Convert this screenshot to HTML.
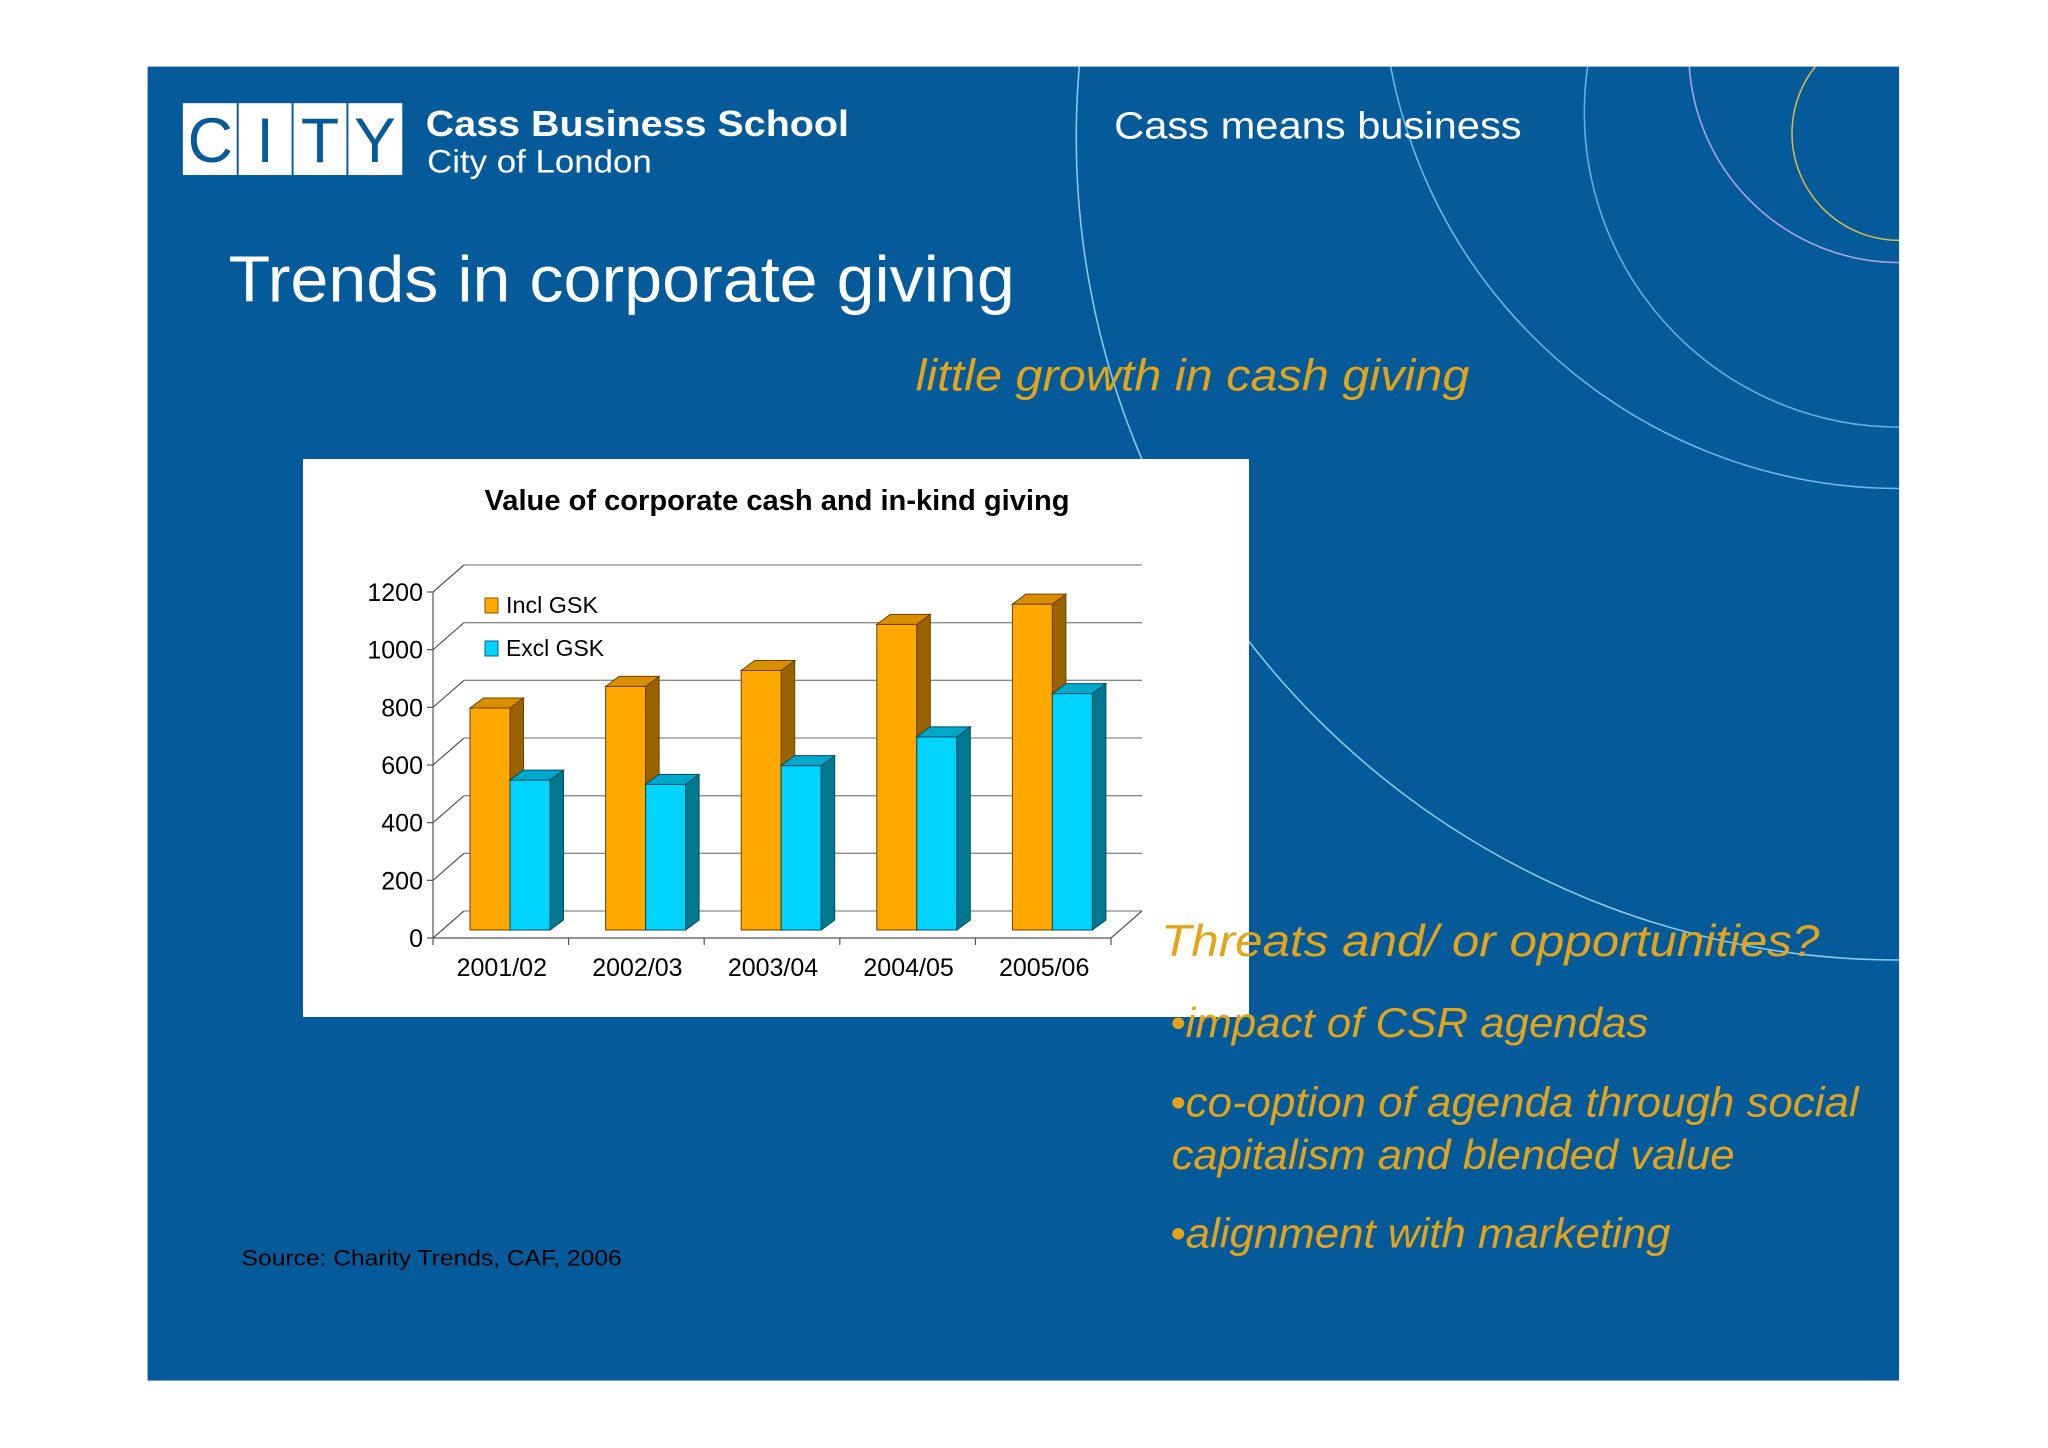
<!DOCTYPE html>
<html><head><meta charset="utf-8"><style>
html,body{margin:0;padding:0;background:#fff;}
svg{display:block;}
text{font-family:"Liberation Sans",sans-serif;}
</style></head><body>
<svg id="page" width="2048" height="1448" viewBox="0 0 2048 1448" xmlns="http://www.w3.org/2000/svg">
<defs><clipPath id="slideclip"><rect x="113" y="51" width="1341" height="1006"/></clipPath></defs>
<g transform="scale(1.30612)">
  <rect x="113" y="51" width="1341" height="1006" fill="#055a9a"/>
  <g clip-path="url(#slideclip)" fill="none" stroke-width="1.2">
    <circle cx="1454" cy="105" r="630" stroke="#8ccbe8"/>
    <circle cx="1454" cy="-22" r="396" stroke="#6cb8e6"/>
    <circle cx="1454" cy="86" r="241" stroke="#5fb0ea"/>
    <circle cx="1454" cy="40" r="161" stroke="#a9a6e0"/>
    <circle cx="1454" cy="102" r="82" stroke="#d8b850"/>
  </g>
  <g>
    <rect x="140" y="79" width="168" height="55" fill="#fff"/>
    <line x1="182" y1="79" x2="182" y2="134" stroke="#055a9a" stroke-width="1.5"/>
    <line x1="224" y1="79" x2="224" y2="134" stroke="#055a9a" stroke-width="1.5"/>
    <line x1="266" y1="79" x2="266" y2="134" stroke="#055a9a" stroke-width="1.5"/>
    <g font-family="Liberation Serif,serif" font-size="48" fill="#055a9a" text-anchor="middle">
      <text x="161" y="124">C</text><text x="203" y="124">I</text><text x="245" y="124">T</text><text x="287" y="124">Y</text>
    </g>
  </g>
  <text x="326" y="104" font-size="28" font-weight="bold" fill="#fff" textLength="324" lengthAdjust="spacingAndGlyphs">Cass Business School</text>
  <text x="327" y="132" font-size="25" fill="#fff" textLength="172" lengthAdjust="spacingAndGlyphs">City of London</text>
  <text x="853" y="106" font-size="29" fill="#fff" textLength="312" lengthAdjust="spacingAndGlyphs">Cass means business</text>
  <text x="175" y="231" font-size="50" fill="#fff" textLength="602" lengthAdjust="spacingAndGlyphs">Trends in corporate giving</text>
  <text x="701" y="299" font-size="34" font-style="italic" fill="#e3a41a" textLength="424" lengthAdjust="spacingAndGlyphs">little growth in cash giving</text>
  <text x="185" y="969" font-size="17" fill="#000" textLength="291" lengthAdjust="spacingAndGlyphs">Source: Charity Trends, CAF, 2006</text>
</g>
<g id="chart">
  <rect x="303" y="459" width="946" height="558" fill="#fff"/>
  <text x="777" y="510" font-size="29" font-weight="bold" text-anchor="middle" fill="#000" textLength="585" lengthAdjust="spacingAndGlyphs">Value of corporate cash and in-kind giving</text>
  <g id="axes"></g>
  <g id="bars"></g>
  <g>
    <rect x="485" y="598" width="13" height="15" fill="#ffa800" stroke="#8a5a00"/>
    <text x="506" y="613" font-size="23" textLength="92" lengthAdjust="spacingAndGlyphs">Incl GSK</text>
    <rect x="485" y="641" width="13" height="15" fill="#00d4ff" stroke="#006a80"/>
    <text x="506" y="656" font-size="23" textLength="98" lengthAdjust="spacingAndGlyphs">Excl GSK</text>
  </g>
</g>
<g transform="scale(1.30612)">
  <g font-style="italic" fill="#e3a41a">
    <text x="889" y="732" font-size="34" textLength="504" lengthAdjust="spacingAndGlyphs">Threats and/ or  opportunities?</text>
    <text x="896" y="794" font-size="32" textLength="366" lengthAdjust="spacingAndGlyphs">•impact of CSR agendas</text>
    <text x="896" y="855" font-size="32" textLength="527" lengthAdjust="spacingAndGlyphs">•co-option of agenda through social</text>
    <text x="897" y="895" font-size="32" textLength="431" lengthAdjust="spacingAndGlyphs">capitalism and blended value</text>
    <text x="896" y="955" font-size="32" textLength="383" lengthAdjust="spacingAndGlyphs">•alignment with marketing</text>
  </g>
</g>
</svg>
<script>
const categories = ["2001/02","2002/03","2003/04","2004/05","2005/06"];
const inclGSK = [770, 845, 900, 1060, 1130];
const exclGSK = [520, 505, 570, 670, 820];
const yTicks = [0, 200, 400, 600, 800, 1000, 1200];
const yMax = 1200;

const NS = "http://www.w3.org/2000/svg";
const frontLeft = 433, frontRight = 1111, frontBase = 938;
const depthX = 31, depthY = -27;
const plotH = 346;
const catW = (frontRight - frontLeft) / categories.length;
function yFront(v){ return frontBase - v / yMax * plotH; }
function yBar(v){ return 930 - v / yMax * plotH; }
function xCat(i){ return frontLeft + catW * i; }
function mk(tag, attrs, parent){ const e = document.createElementNS(NS, tag); for (const k in attrs) e.setAttribute(k, attrs[k]); parent.appendChild(e); return e; }

const axes = document.getElementById('axes');
yTicks.forEach(t => {
  const yf = yFront(t);
  const g = mk('line', {x1: frontLeft + depthX, y1: yf + depthY, x2: frontRight + depthX, y2: yf + depthY, stroke: '#8a8a8a', 'stroke-width': 1.3}, axes);
  
  
  mk('line', {x1: frontLeft, y1: yf, x2: frontLeft + depthX, y2: yf + depthY, stroke: '#555', 'stroke-width': 1.2}, axes);
  mk('line', {x1: frontLeft - 6, y1: yf, x2: frontLeft, y2: yf, stroke: '#555', 'stroke-width': 1.2}, axes);
  const lb = mk('text', {x: 423, y: yf + 9, 'font-size': 25, 'text-anchor': 'end', fill: '#000'}, axes);
  lb.textContent = t;
  
  
});
mk('line', {x1: frontLeft, y1: frontBase, x2: frontLeft, y2: yFront(yMax), stroke: '#555', 'stroke-width': 1.2}, axes);
mk('line', {x1: frontLeft, y1: frontBase, x2: frontRight, y2: frontBase, stroke: '#555', 'stroke-width': 1.2}, axes);
mk('line', {x1: frontRight, y1: frontBase, x2: frontRight + depthX, y2: frontBase + depthY, stroke: '#555', 'stroke-width': 1.2}, axes);
for (let i = 0; i <= categories.length; i++) {
  mk('line', {x1: xCat(i), y1: frontBase, x2: xCat(i), y2: frontBase + 7, stroke: '#555', 'stroke-width': 1.2}, axes);
}
categories.forEach((c, i) => {
  const t = mk('text', {x: xCat(i) + catW / 2 + 1, y: 976, 'font-size': 25, 'text-anchor': 'middle', fill: '#000'}, axes);
  t.textContent = c;
  
  
});

const bars = document.getElementById('bars');
const bw = 40, bdx = 13.5, bdy = -10, base = 930;
function bar(x, v, cols, name){
  const g = mk('g', {}, bars);
  
  
  const y = yBar(v);
  mk('rect', {x: x, y: y, width: bw, height: base - y, fill: cols[0], stroke: cols[3], 'stroke-width': 1}, g);
  mk('polygon', {points: `${x+bw},${base} ${x+bw},${y} ${x+bw+bdx},${y+bdy} ${x+bw+bdx},${base+bdy}`, fill: cols[1], stroke: cols[3], 'stroke-width': 1}, g);
  mk('polygon', {points: `${x},${y} ${x+bdx},${y+bdy} ${x+bw+bdx},${y+bdy} ${x+bw},${y}`, fill: cols[2], stroke: cols[3], 'stroke-width': 1}, g);
}
categories.forEach((c, i) => {
  const s = xCat(i);
  bar(s + 37, inclGSK[i], ['#ffa800', '#9a6200', '#d98e00', '#6a4300'], 'bar-incl-' + c);
  bar(s + 77, exclGSK[i], ['#00d4ff', '#00788f', '#00a9cc', '#004f60'], 'bar-excl-' + c);
});
</script>
</body></html>
